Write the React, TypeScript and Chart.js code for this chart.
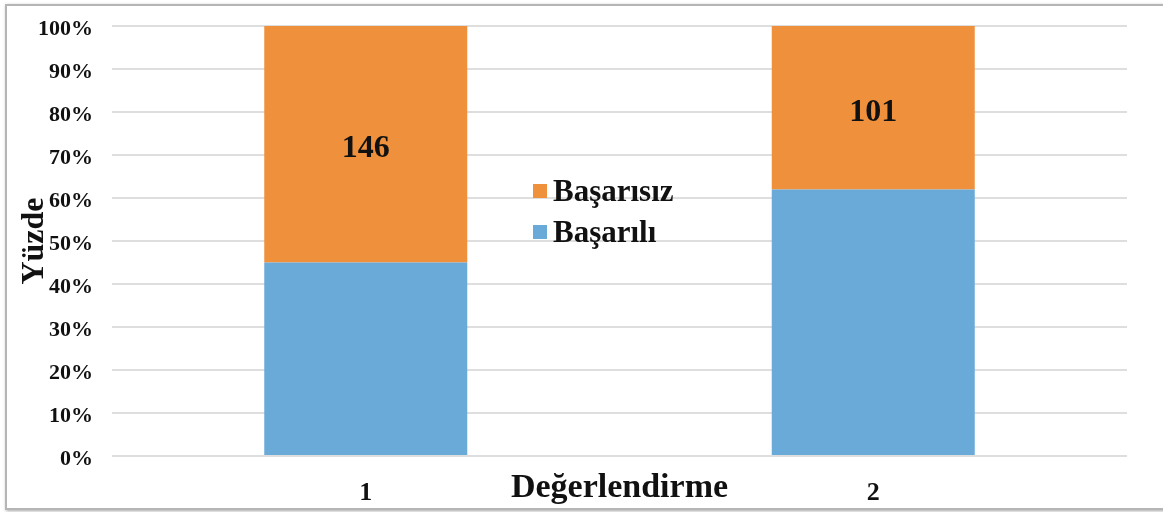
import React, { useEffect, useRef } from "react";
import { Chart, registerables } from "chart.js";

Chart.register(...registerables);

const categories = ["1", "2"];
const basariliPct = [45, 62];
const basarisizPct = [55, 38];
const basarisizCounts = ["146", "101"];
const yTickLabels = ["0%", "10%", "20%", "30%", "40%", "50%", "60%", "70%", "80%", "90%", "100%"];
const seriesNames = ["Başarılı", "Başarısız"];
const xTitle = "Değerlendirme";
const yTitle = "Yüzde";

const FONT = "'Liberation Serif', 'Times New Roman', serif";
const ORANGE = "#EF913C";
const BLUE = "#6AAAD8";

const overlayPlugin = {
  id: "overlay",
  afterDatasetsDraw(chart: any) {
    const ctx = chart.ctx;
    ctx.save();
    // value labels on the Başarısız segments
    const meta = chart.getDatasetMeta(1);
    ctx.font = `bold 32px ${FONT}`;
    ctx.fillStyle = "#111";
    ctx.textAlign = "center";
    ctx.textBaseline = "alphabetic";
    meta.data.forEach((el: any, i: number) => {
      const { x, y, base } = el.getProps(["x", "y", "base"], true);
      ctx.fillText(basarisizCounts[i], x, (y + base) / 2 + 13);
    });
    // legend (reverse order)
    const ds = chart.data.datasets;
    const rows = [ds[1], ds[0]];
    ctx.font = `bold 31px ${FONT}`;
    ctx.textAlign = "left";
    ctx.textBaseline = "middle";
    rows.forEach((d: any, i: number) => {
      const cy = 192 + i * 41;
      ctx.fillStyle = d.backgroundColor;
      ctx.fillRect(533, cy - 8, 14, 14);
      ctx.fillStyle = "#111";
      ctx.fillText(d.label, 553, cy + 1);
    });
    // x axis title
    ctx.font = `bold 34px ${FONT}`;
    ctx.textAlign = "center";
    ctx.textBaseline = "alphabetic";
    const area = chart.chartArea;
    ctx.fillText(xTitle, (area.left + area.right) / 2, 497);
    ctx.restore();
  },
};

export default function App() {
  const ref = useRef<HTMLCanvasElement | null>(null);
  useEffect(() => {
    if (!ref.current) return;
    const chart = new Chart(ref.current, {
      type: "bar",
      data: {
        labels: categories,
        datasets: [
          {
            label: seriesNames[0],
            data: basariliPct,
            backgroundColor: BLUE,
            barPercentage: 0.4,
            categoryPercentage: 1,
          },
          {
            label: seriesNames[1],
            data: basarisizPct,
            backgroundColor: ORANGE,
            barPercentage: 0.4,
            categoryPercentage: 1,
          },
        ],
      },
      options: {
        animation: false,
        responsive: false,
        maintainAspectRatio: false,
        layout: { padding: { left: 0, top: 26, right: 36, bottom: 0 } },
        plugins: {
          legend: { display: false },
          tooltip: { enabled: false },
        },
        scales: {
          x: {
            stacked: true,
            grid: { display: false, drawTicks: false },
            border: { display: false },
            ticks: {
              padding: 22,
              color: "#111",
              font: { family: FONT, size: 26, weight: "bold" },
            },
            afterFit(scale: any) {
              scale.height = 56;
              scale.paddingLeft = 0;
              scale.paddingRight = 0;
            },
          },
          y: {
            stacked: true,
            min: 0,
            max: 100,
            grid: { color: "#dedede", lineWidth: 2, drawTicks: false },
            border: { display: false },
            ticks: {
              stepSize: 10,
              padding: 19,
              labelOffset: 3,
              color: "#111",
              font: { family: FONT, size: 22, weight: "bold" },
              callback: (_v: any, i: number) => yTickLabels[i],
            },
            title: {
              display: true,
              text: yTitle,
              color: "#111",
              font: { family: FONT, size: 32, weight: "bold" },
              padding: { top: 16, bottom: 0 },
            },
            afterFit(scale: any) {
              scale.width = 112;
              scale.paddingTop = 0;
              scale.paddingBottom = 0;
            },
          },
        },
      },
      plugins: [overlayPlugin],
    });
    return () => chart.destroy();
  }, []);

  return (
    <div style={{ position: "fixed", left: 0, top: 0, width: 1163, height: 512, background: "#fff", overflow: "hidden" }}>
      <div
        style={{
          position: "absolute",
          left: 5,
          top: 4,
          width: 1200,
          height: 502,
          border: "2px solid #b5b5b5",
          boxShadow: "1px 1px 3px rgba(0,0,0,0.35)",
          background: "#fff",
        }}
      />
      <canvas
        ref={ref}
        width={1163}
        height={512}
        style={{ position: "absolute", left: 0, top: 0, width: 1163, height: 512 }}
      />
    </div>
  );
}
